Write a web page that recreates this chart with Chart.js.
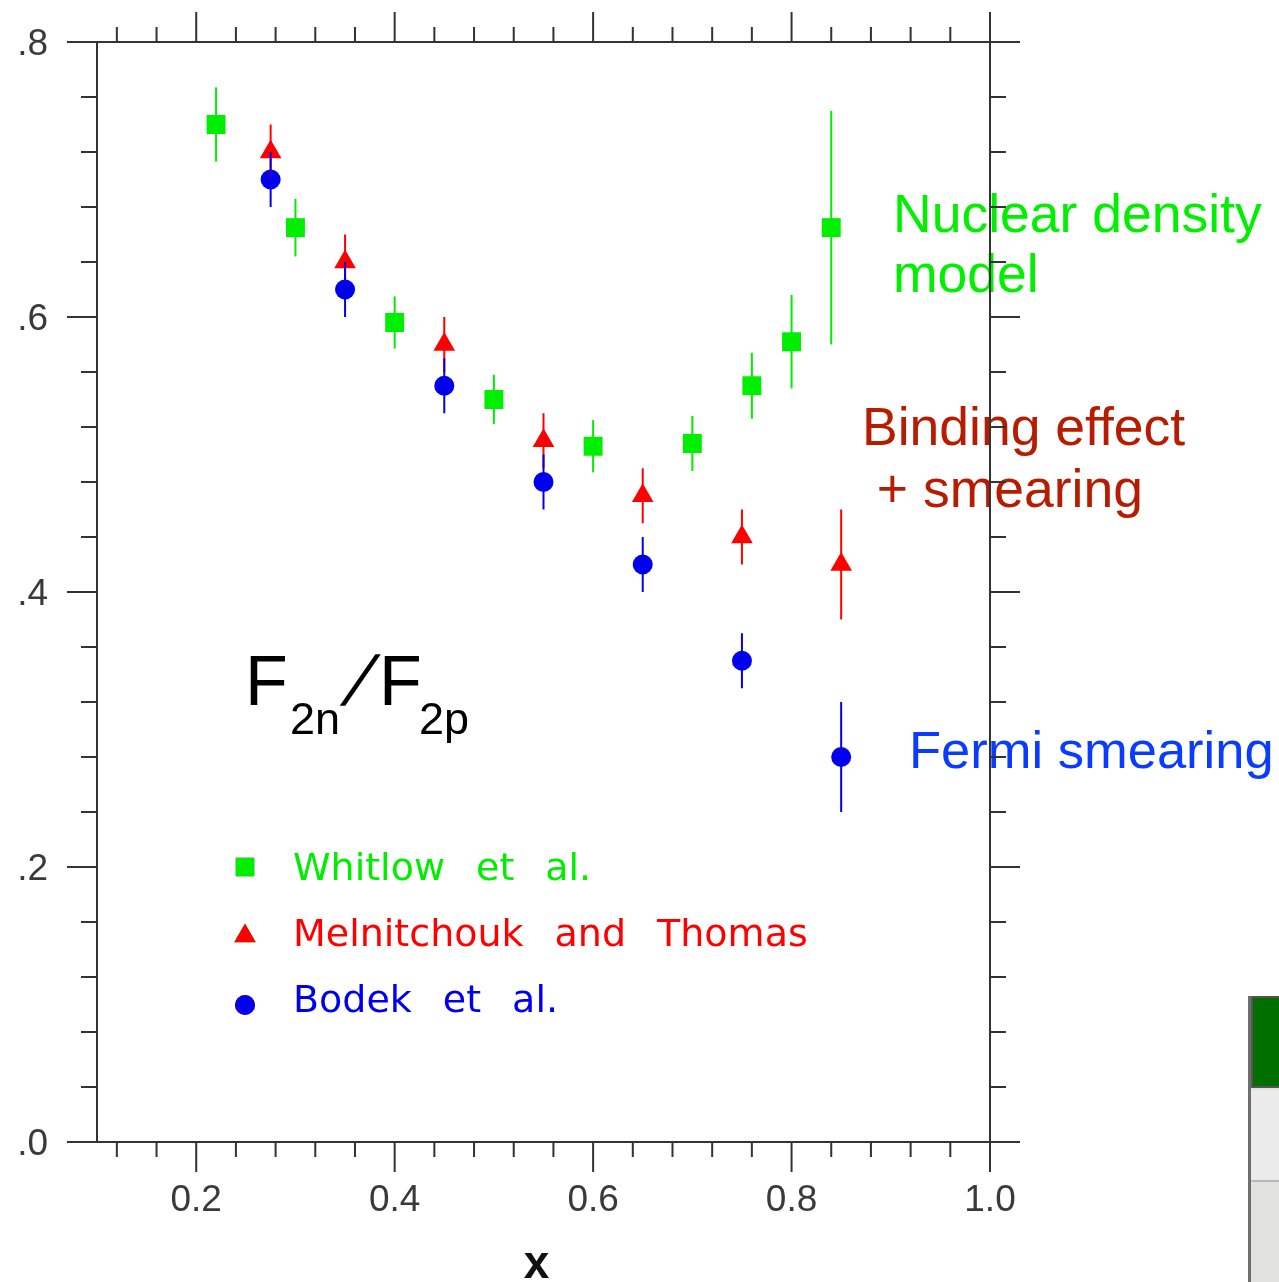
<!DOCTYPE html>
<html>
<head>
<meta charset="utf-8">
<script src="https://cdn.jsdelivr.net/npm/chart.js@4.4.1/dist/chart.umd.min.js"></script>
<style>
  html, body { margin: 0; padding: 0; background: #fff; }
  #wrap { position: relative; width: 1279px; height: 1282px; overflow: hidden; }
  #ratioChart { position: absolute; left: 0; top: 0; }
  .panel { position: absolute; left: 1248px; top: 996px; width: 40px; height: 290px; border-left: 3px solid #6e6e6e; background: #e1e1dd; }
  .panel .head { position: absolute; left: 0; top: 0; width: 40px; height: 92px; background: #006f00; border: 2px solid #555; box-sizing: border-box; }
  .panel .row { position: absolute; left: 0; top: 94px; width: 40px; height: 92px; background: #ebebeb; border-bottom: 2px solid #b8b8b8; box-sizing: border-box; }
</style>
</head>
<body>
<div id="wrap">
  <canvas id="ratioChart" width="1279" height="1282"></canvas>
  <div class="panel"><div class="head"></div><div class="row"></div></div>
</div>
<script>
// data: F2n/F2p vs x
const xWhitlow = [0.22, 0.30, 0.40, 0.50, 0.60, 0.70, 0.76, 0.80, 0.84];
const yWhitlow = [0.740, 0.665, 0.596, 0.540, 0.506, 0.508, 0.550, 0.582, 0.665];
const eWhitlow = [0.027, 0.021, 0.019, 0.018, 0.019, 0.020, 0.024, 0.034, 0.085];

const xMelnitchouk = [0.275, 0.35, 0.45, 0.55, 0.65, 0.75, 0.85];
const yMelnitchouk = [0.72, 0.64, 0.58, 0.51, 0.47, 0.44, 0.42];
const eMelnitchouk = [0.02, 0.02, 0.02, 0.02, 0.02, 0.02, 0.04];

const xBodek = [0.275, 0.35, 0.45, 0.55, 0.65, 0.75, 0.85];
const yBodek = [0.70, 0.62, 0.55, 0.48, 0.42, 0.35, 0.28];
const eBodek = [0.02, 0.02, 0.02, 0.02, 0.02, 0.02, 0.04];

// axis ticks
const xTicks = [0.12, 0.16, 0.20, 0.24, 0.28, 0.32, 0.36, 0.40, 0.44, 0.48, 0.52, 0.56, 0.60,
  0.64, 0.68, 0.72, 0.76, 0.80, 0.84, 0.88, 0.92, 0.96, 1.00];
const xMajor = [0.2, 0.4, 0.6, 0.8, 1.0];
const xLabels = ['0.2', '0.4', '0.6', '0.8', '1.0'];
const yTicks = [0.00, 0.04, 0.08, 0.12, 0.16, 0.20, 0.24, 0.28, 0.32, 0.36, 0.40,
  0.44, 0.48, 0.52, 0.56, 0.60, 0.64, 0.68, 0.72, 0.76, 0.80];
const yMajor = [0.0, 0.2, 0.4, 0.6, 0.8];
const yLabels = ['.0', '.2', '.4', '.6', '.8'];

const seriesNames = ['Whitlow et al.', 'Melnitchouk and Thomas', 'Bodek et al.'];

const GREEN = '#00ee00';
const RED = '#ff0000';
const BLUE = '#0000ee';
const AXIS = '#333333';

function toPoints(xs, ys) {
  return xs.map((x, i) => ({ x: x, y: ys[i] }));
}

const isIn = (v, list) => list.some((m) => Math.abs(m - v) < 1e-9);

const errorSets = [eWhitlow, eMelnitchouk, eBodek];

const plotDecor = {
  id: 'plotDecor',
  beforeDatasetsDraw(chart) {
    const ctx = chart.ctx;
    ctx.save();
    ctx.textBaseline = 'alphabetic';
    ctx.textAlign = 'left';
    ctx.font = '53.5px "Liberation Sans", Arial, sans-serif';
    ctx.fillStyle = '#00f000';
    ctx.fillText('Nuclear density', 893, 232);
    ctx.fillText('model', 893, 292);
    ctx.fillStyle = '#b71c00';
    ctx.fillText('Binding effect', 862, 445);
    ctx.fillText(' + smearing', 862, 507);
    ctx.fillStyle = '#0a3cff';
    ctx.font = '52.5px "Liberation Sans", Arial, sans-serif';
    ctx.fillText('Fermi smearing', 909, 768);
    ctx.restore();
  },
  afterDatasetsDraw(chart) {
    const ctx = chart.ctx;
    const xs = chart.scales.x;
    const ys = chart.scales.y;
    const { left, right, top, bottom } = chart.chartArea;

    // error bars
    ctx.save();
    ctx.lineWidth = 2;
    chart.data.datasets.forEach((ds, i) => {
      ctx.strokeStyle = ds.borderColor;
      ds.data.forEach((p, j) => {
        const e = errorSets[i][j];
        const px = xs.getPixelForValue(p.x);
        ctx.beginPath();
        ctx.moveTo(px, ys.getPixelForValue(p.y + e));
        ctx.lineTo(px, ys.getPixelForValue(p.y - e));
        ctx.stroke();
      });
    });
    ctx.restore();

    // frame with outward ticks
    ctx.save();
    ctx.strokeStyle = AXIS;
    ctx.lineWidth = 2;
    ctx.beginPath();
    ctx.moveTo(left, top); ctx.lineTo(left, bottom);
    ctx.moveTo(right, top); ctx.lineTo(right, bottom);
    ctx.moveTo(left, top); ctx.lineTo(right, top);
    ctx.moveTo(left, bottom); ctx.lineTo(right, bottom);
    xTicks.forEach((v) => {
      const px = xs.getPixelForValue(v);
      const len = isIn(v, xMajor) ? 30 : 15;
      ctx.moveTo(px, bottom); ctx.lineTo(px, bottom + len);
      ctx.moveTo(px, top); ctx.lineTo(px, top - len);
    });
    yTicks.forEach((v) => {
      const py = ys.getPixelForValue(v);
      const len = isIn(v, yMajor) ? 30 : 16;
      ctx.moveTo(left, py); ctx.lineTo(left - len, py);
      ctx.moveTo(right, py); ctx.lineTo(right + len, py);
    });
    ctx.stroke();

    ctx.fillStyle = '#3a3a3a';
    ctx.font = '37px "Liberation Sans", Arial, sans-serif';
    ctx.textAlign = 'center';
    ctx.textBaseline = 'middle';
    xMajor.forEach((v, i) => {
      ctx.fillText(xLabels[i], xs.getPixelForValue(v), bottom + 59);
    });
    ctx.textAlign = 'right';
    yMajor.forEach((v, i) => {
      ctx.fillText(yLabels[i], left - 49, ys.getPixelForValue(v) + 3);
    });
    ctx.fillStyle = '#111';
    ctx.textAlign = 'center';
    ctx.textBaseline = 'alphabetic';
    ctx.font = 'bold 46px "Liberation Sans", Arial, sans-serif';
    ctx.fillText('x', (left + right) / 2 - 7, bottom + 136);
    ctx.restore();

    // legend inside the plot
    ctx.save();
    const legendY = [867, 936, 1005];
    const textBase = [880, 946, 1012];
    ctx.font = '38px "DejaVu Sans", sans-serif';
    ctx.textAlign = 'left';
    ctx.textBaseline = 'alphabetic';
    chart.data.datasets.forEach((ds, i) => {
      Chart.helpers.drawPoint(ctx, {
        pointStyle: ds.pointStyle,
        radius: ds.legendRadius,
        rotation: 0,
        borderWidth: 0
      }, 245, legendY[i]);
      ctx.fillStyle = ds.backgroundColor;
      ctx.fill();
      let tx = 293;
      seriesNames[i].split(' ').forEach((w) => {
        ctx.fillText(w, tx, textBase[i]);
        tx += ctx.measureText(w).width + 31;
      });
    });
    ctx.restore();

    // F2n/F2p label
    ctx.save();
    ctx.fillStyle = '#000';
    ctx.textAlign = 'left';
    ctx.textBaseline = 'alphabetic';
    const big = '70px "Liberation Sans", Arial, sans-serif';
    const sub = '45px "Liberation Sans", Arial, sans-serif';
    ctx.font = big; ctx.fillText('F', 245, 705);
    ctx.font = sub; ctx.fillText('2n', 290, 734);
    ctx.save();
    ctx.transform(1, 0, -0.42, 1, 340, 705);
    ctx.font = big; ctx.fillText('/', 0, 0);
    ctx.restore();
    ctx.font = big; ctx.fillText('F', 379, 705);
    ctx.font = sub; ctx.fillText('2p', 419, 734);
    ctx.restore();
  }
};

const ctx = document.getElementById('ratioChart').getContext('2d');

new Chart(ctx, {
  type: 'scatter',
  data: {
    datasets: [
      {
        label: seriesNames[0],
        data: toPoints(xWhitlow, yWhitlow),
        pointStyle: 'rect',
        pointRadius: 13.4,
        legendRadius: 13,
        backgroundColor: GREEN,
        borderColor: GREEN,
        borderWidth: 0
      },
      {
        label: seriesNames[1],
        data: toPoints(xMelnitchouk, yMelnitchouk),
        pointStyle: 'triangle',
        pointRadius: 12.5,
        legendRadius: 12.5,
        backgroundColor: RED,
        borderColor: RED,
        borderWidth: 0
      },
      {
        label: seriesNames[2],
        data: toPoints(xBodek, yBodek),
        pointStyle: 'circle',
        pointRadius: 10,
        legendRadius: 10,
        backgroundColor: BLUE,
        borderColor: BLUE,
        borderWidth: 0
      }
    ]
  },
  options: {
    responsive: false,
    animation: false,
    devicePixelRatio: 1,
    events: [],
    layout: { padding: { left: 97, top: 42, right: 289, bottom: 140 } },
    scales: {
      x: { type: 'linear', min: 0.1, max: 1.0, display: false },
      y: { type: 'linear', min: 0, max: 0.8, display: false }
    },
    plugins: {
      legend: { display: false },
      tooltip: { enabled: false }
    }
  },
  plugins: [plotDecor]
});
</script>
</body>
</html>
